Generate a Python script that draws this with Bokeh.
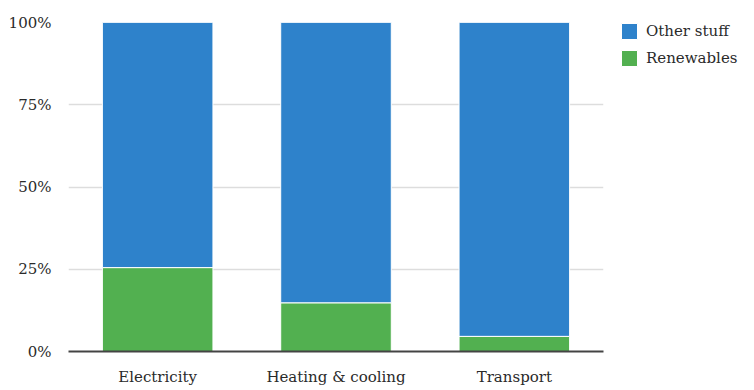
from bokeh.plotting import figure
from bokeh.models import FactorRange, Legend, LegendItem, PrintfTickFormatter, FixedTicker
from bokeh.embed import file_html
from bokeh.resources import INLINE

categories = ["Electricity", "Heating & cooling", "Transport"]
renewables = [25.5, 14.8, 4.6]
other_stuff = [100 - v for v in renewables]
y_ticks = [0, 25, 50, 75, 100]

FONT = "DejaVu Serif"
BLUE = "#2e82cb"
GREEN = "#52b050"

p = figure(x_range=FactorRange(*categories), y_range=(0, 100),
           frame_width=535, frame_height=329,
           min_border_left=61, min_border_top=22, min_border_bottom=24, min_border_right=142,
           output_backend="svg", toolbar_location=None, outline_line_color=None)

data = dict(cat=categories, renewables=renewables, other=other_stuff)
rs = p.vbar_stack(["renewables", "other"], x="cat", width=0.62, source=data,
                  color=[GREEN, BLUE], line_color="white", line_width=1)

p.xgrid.grid_line_color = None
p.ygrid.grid_line_color = "#dddddd"
p.ygrid.grid_line_width = 1.5

p.yaxis.ticker = FixedTicker(ticks=y_ticks)
p.yaxis.formatter = PrintfTickFormatter(format="%d%%")
p.yaxis.axis_line_color = None
p.yaxis.major_tick_line_color = None
p.yaxis.minor_tick_line_color = None
p.yaxis.major_label_standoff = 11
p.yaxis.axis_label = " "
p.yaxis.axis_label_text_font_size = "2px"
p.yaxis.axis_label_standoff = 0
p.xaxis.axis_line_color = "#444444"
p.xaxis.axis_line_width = 2
p.xaxis.major_tick_line_color = None
p.xaxis.major_label_standoff = 10
for ax in (p.xaxis, p.yaxis):
    ax.major_label_text_font = FONT
    ax.major_label_text_font_size = "15px"
    ax.major_label_text_color = "#2a2a2a"

legend = Legend(items=[LegendItem(label="Other stuff", renderers=[rs[1]]),
                       LegendItem(label="Renewables", renderers=[rs[0]])],
                location=(16, 283), margin=0, padding=0, spacing=7,
                glyph_width=20, glyph_height=20, label_standoff=7,
                label_text_font=FONT, label_text_font_size="15px",
                label_text_color="#2a2a2a", border_line_color=None,
                background_fill_alpha=0, label_height=20)
p.add_layout(legend, "right")

open("out.html", "w").write(file_html(p, INLINE))
